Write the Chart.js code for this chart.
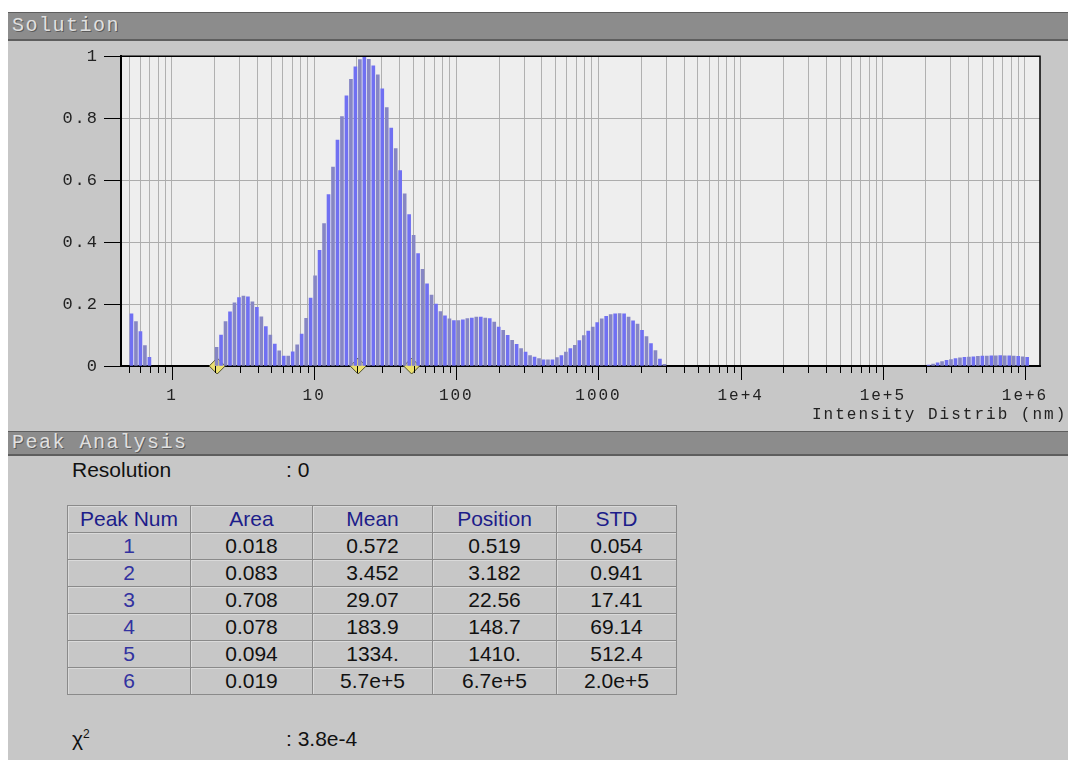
<!DOCTYPE html>
<html>
<head>
<meta charset="utf-8">
<script src="https://cdn.jsdelivr.net/npm/chart.js@4/dist/chart.umd.min.js"></script>
<style>
  body { margin: 0; background: #fff; width: 1068px; height: 760px; overflow: hidden; position: relative; font-family: "Liberation Sans", Arial, sans-serif; }
  .panel { position: absolute; left: 8px; top: 12px; width: 1060px; height: 748px; background: #c7c7c7; }
  .hdr { position: absolute; left: 8px; width: 1060px; background: #8c8c8c; border-top: 1px solid #5e5e5e; border-bottom: 2px solid #5e5e5e;
         font-family: "Liberation Mono", monospace; font-size: 20px; letter-spacing: 1.5px; color: #e0e0e0; text-shadow: 1px 1px 0 #5a5a5a; box-sizing: border-box; padding-left: 4px; }
  #cv { position: absolute; left: 8px; top: 41px; }
  .lbl { position: absolute; font-size: 21px; color: #111; }
  table { position: absolute; left: 67px; top: 505px; border-collapse: collapse; font-size: 21px; }
  td { border: 1px solid #8a8a8a; height: 26px; padding: 0; text-align: center; color: #111; box-shadow: inset 1px 1px 0 #dadada; }
  tr.head td { color: #1d1d8a; }
  td.num { color: #3232a0; }
</style>
</head>
<body>
<div class="panel"></div>
<div class="hdr" style="top:12px;height:29px;line-height:26px;">Solution</div>
<canvas id="cv" width="1060" height="390"></canvas>
<div class="hdr" style="top:431px;height:25px;line-height:22px;">Peak Analysis</div>
<div class="lbl" style="left:72px;top:458px;">Resolution</div>
<div class="lbl" style="left:286px;top:458px;">:&nbsp;0</div>
<table id="peaks"></table>
<div class="lbl" style="left:72px;top:727px;">&chi;<sup style="font-size:12px;">2</sup></div>
<div class="lbl" style="left:286px;top:727px;">:&nbsp;3.8e-4</div>
<script>
// size classes are log spaced, one class = 0.0315 decade, class 0 = 0.519 nm
const sizeClass0 = 0.519;
const classStep = 0.0315;

// normalised intensity per size class
const lowStart = 0;
const lowBand = [0.168, 0.143, 0.111, 0.066, 0.028];

const midStart = 19;
const midBand = [
  0.060, 0.100, 0.143, 0.175, 0.204, 0.221, 0.226, 0.223, 0.207, 0.189,
  0.159, 0.127, 0.100, 0.071, 0.049, 0.032, 0.032, 0.046, 0.068, 0.103,
  0.154, 0.219, 0.291, 0.373, 0.460, 0.553, 0.642, 0.729, 0.805, 0.872,
  0.925, 0.966, 0.989, 1.000, 0.990, 0.969, 0.940, 0.895, 0.834, 0.768,
  0.702, 0.631, 0.556, 0.489, 0.422, 0.363, 0.312, 0.265, 0.229, 0.200,
  0.176, 0.162, 0.152, 0.147, 0.147, 0.149, 0.153, 0.155, 0.158, 0.158,
  0.155, 0.153, 0.142, 0.126, 0.115, 0.099, 0.083, 0.070, 0.056, 0.045,
  0.034, 0.029, 0.024, 0.020, 0.020, 0.020, 0.027, 0.034, 0.045, 0.056,
  0.067, 0.082, 0.098, 0.113, 0.126, 0.140, 0.152, 0.160, 0.166, 0.168,
  0.169, 0.168, 0.158, 0.146, 0.135, 0.115, 0.095, 0.072, 0.050, 0.022,
  0.005
];

const highStart = 178;
const highBand = [
  0.003, 0.006, 0.010, 0.014, 0.018, 0.021, 0.024, 0.026, 0.028, 0.029,
  0.030, 0.031, 0.032, 0.032, 0.033, 0.033, 0.034, 0.033, 0.033, 0.032,
  0.031, 0.030, 0.028
];

// markers on the baseline (nm)
const markerSizes = [2.08, 20.4, 48.5];

const decadeValues = [1, 10, 100, 1000, 1e4, 1e5, 1e6];
const decadeLabels = ['1', '10', '100', '1000', '1e+4', '1e+5', '1e+6'];
const yTickValues = [0, 0.2, 0.4, 0.6, 0.8, 1];
const yTickLabels = ['0', '0.2', '0.4', '0.6', '0.8', '1'];

// peak analysis table
const peakNum = ['1', '2', '3', '4', '5', '6'];
const peakArea = ['0.018', '0.083', '0.708', '0.078', '0.094', '0.019'];
const peakMean = ['0.572', '3.452', '29.07', '183.9', '1334.', '5.7e+5'];
const peakPosition = ['0.519', '3.182', '22.56', '148.7', '1410.', '6.7e+5'];
const peakStd = ['0.054', '0.941', '17.41', '69.14', '512.4', '2.0e+5'];

const xMin = 0.438, xMax = 1.275e6;

let bars = [], barColors = [];
[[lowStart, lowBand], [midStart, midBand], [highStart, highBand]].forEach(([start, vals]) => {
  vals.forEach((v, i) => {
    let k = start + i;
    bars.push({x: sizeClass0 * Math.pow(10, classStep * k), y: v});
    barColors.push(k % 2 ? '#8686c4' : '#7070f2');
  });
});
let markers = markerSizes.map(s => ({x: s, y: 0}));

const frame = {
  id: 'frame',
  beforeDraw(chart) {
    const ctx = chart.ctx, a = chart.chartArea;
    ctx.save();
    ctx.fillStyle = '#eeeeee';
    ctx.fillRect(a.left, a.top, a.right - a.left, a.bottom - a.top);
    ctx.restore();
    ctx.letterSpacing = '2px';
  },
  afterDraw(chart) {
    const ctx = chart.ctx, a = chart.chartArea, xs = chart.scales.x;
    ctx.save();
    ctx.strokeStyle = '#000';
    ctx.lineWidth = 1.5;
    ctx.beginPath();
    ctx.moveTo(a.left, a.top); ctx.lineTo(a.right, a.top); ctx.lineTo(a.right, a.bottom);
    ctx.stroke();
    // tick marks under the x axis, long ones on decades
    ctx.lineWidth = 1;
    xs.ticks.forEach(t => {
      let px = Math.round(xs.getPixelForValue(t.value)) + 0.5;
      ctx.beginPath();
      ctx.moveTo(px, a.bottom);
      ctx.lineTo(px, a.bottom + (t.major ? 14 : 7));
      ctx.stroke();
    });
    ctx.font = "16px 'Liberation Mono', monospace";
    ctx.fillStyle = '#222';
    ctx.textBaseline = 'middle';
    ctx.textAlign = 'left';
    ctx.fillText('Intensity Distrib (nm)', 804, 374);
    ctx.restore();
  }
};

let table = document.getElementById('peaks');
let rows = '<tr class="head"><td style="width:122px">Peak Num</td><td style="width:121px">Area</td><td style="width:119px">Mean</td><td style="width:123px">Position</td><td style="width:119px">STD</td></tr>';
for (let i = 0; i < peakNum.length; i++) {
  rows += '<tr><td class="num">' + peakNum[i] + '</td><td>' + peakArea[i] + '</td><td>' + peakMean[i] +
          '</td><td>' + peakPosition[i] + '</td><td>' + peakStd[i] + '</td></tr>';
}
table.innerHTML = rows;

Chart.defaults.font.family = "'Liberation Mono', monospace";

new Chart(document.getElementById('cv'), {
  type: 'bar',
  data: {
    datasets: [{
      data: bars,
      backgroundColor: barColors,
      barThickness: 3,
      borderWidth: 0
    }, {
      type: 'scatter',
      data: markers,
      pointStyle: 'rectRot',
      pointRadius: 8,
      backgroundColor: '#ece070',
      borderColor: '#4e4e2a',
      borderWidth: 1,
      clip: false
    }]
  },
  options: {
    responsive: false,
    animation: false,
    events: [],
    layout: { padding: { top: 14, right: 28, left: 0, bottom: 0 } },
    plugins: { legend: { display: false }, tooltip: { enabled: false } },
    scales: {
      x: {
        type: 'logarithmic',
        min: xMin,
        max: xMax,
        offset: false,
        grid: { color: '#b0b0b0', offset: false, drawTicks: false },
        border: { color: '#000', width: 2 },
        afterBuildTicks(scale) {
          let t = [];
          for (let e = -1; e <= 6; e++) {
            for (let m = 1; m <= 9; m++) {
              let v = e < 0 ? m / 10 : m * Math.pow(10, e);
              if (v >= xMin && v <= xMax) t.push({value: v, major: m === 1});
            }
          }
          scale.ticks = t;
        },
        ticks: {
          autoSkip: false,
          maxRotation: 0,
          padding: 20,
          color: '#222',
          font: { size: 16 },
          callback(v) {
            let i = decadeValues.indexOf(v);
            return i >= 0 ? decadeLabels[i] : '';
          }
        },
        afterFit(scale) { scale.height = 65; }
      },
      y: {
        min: 0,
        max: 1,
        grid: { color: '#acacac', tickColor: '#000', tickLength: 17 },
        border: { color: '#000', width: 2 },
        afterBuildTicks(scale) {
          scale.ticks = yTickValues.map(v => ({value: v}));
        },
        ticks: {
          padding: 5,
          color: '#222',
          font: { size: 17 },
          callback(v) {
            let i = yTickValues.indexOf(v);
            return i >= 0 ? yTickLabels[i] : '';
          }
        },
        afterFit(scale) { scale.width = 113; }
      }
    }
  },
  plugins: [frame]
});
</script>
</body>
</html>
